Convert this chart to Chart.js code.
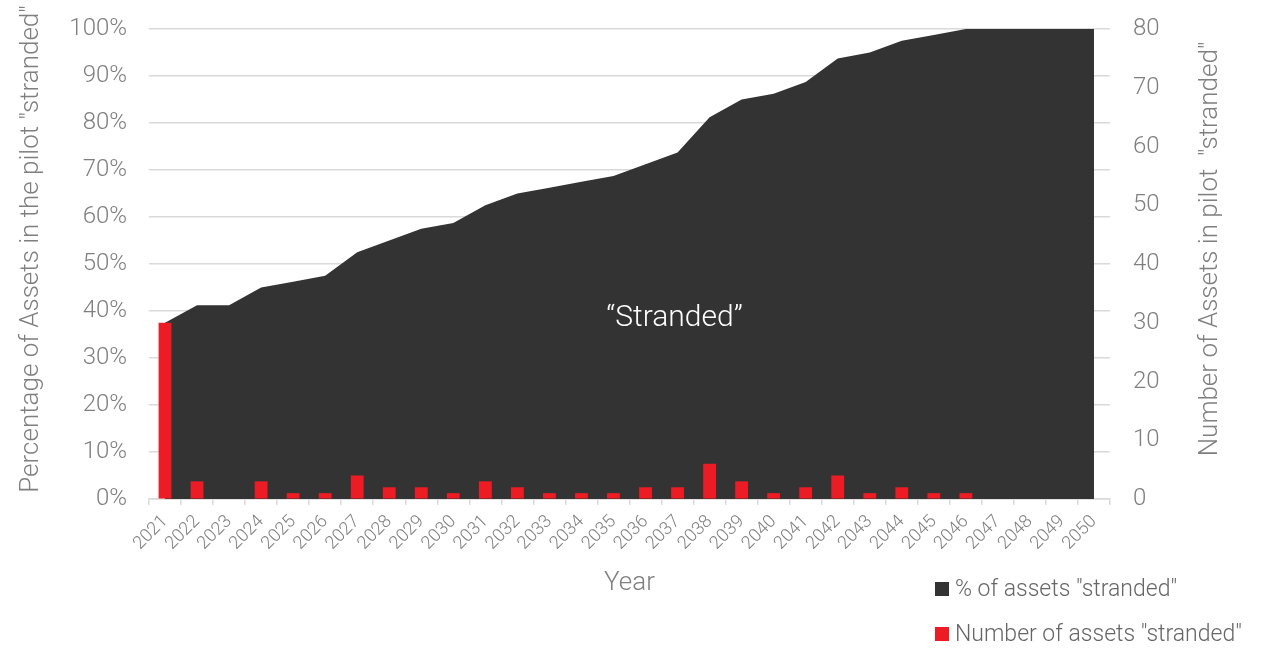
<!DOCTYPE html>
<html>
<head>
<meta charset="utf-8">
<script src="https://cdn.jsdelivr.net/npm/chart.js@4/dist/chart.umd.min.js"></script>
<style>
  body { margin: 0; background: #fff; }
  #wrap { width: 1264px; height: 648px; position: relative; }
</style>
</head>
<body>
<div id="wrap"><canvas id="stranded-chart"></canvas></div>
<script>
// Years along the bottom axis
const YEARS = ["2021", "2022", "2023", "2024", "2025", "2026", "2027", "2028", "2029", "2030",
  "2031", "2032", "2033", "2034", "2035", "2036", "2037", "2038", "2039", "2040",
  "2041", "2042", "2043", "2044", "2045", "2046", "2047", "2048", "2049", "2050"];

// Share of pilot assets "stranded" by each year (%)
let pct_stranded = [37.5, 41.25, 41.25, 45, 46.25, 47.5, 52.5, 55, 57.5, 58.75,
  62.5, 65, 66.25, 67.5, 68.75, 71.25, 73.75, 81.25, 85, 86.25,
  88.75, 93.75, 95, 97.5, 98.75, 100, 100, 100, 100, 100];

// Number of assets newly "stranded" in each year
let num_stranded = [30, 3, 0, 3, 1, 1, 4, 2, 2, 1,
  3, 2, 1, 1, 1, 2, 2, 6, 3, 1,
  2, 4, 1, 2, 1, 1, 0, 0, 0, 0];

// Tick values for both vertical axes
const PCT_TICKS = [0, 10, 20, 30, 40, 50, 60, 70, 80, 90, 100];
const NUM_TICKS = [0, 10, 20, 30, 40, 50, 60, 70, 80];

// Axis titles
const LEFT_TITLE = "Percentage of Assets in the pilot \"stranded\"";
const RIGHT_TITLE = "Number of Assets in pilot  \"stranded\"";

const GREY = "#7f7f7f";
const FONT = "Roboto, 'Liberation Sans', sans-serif";

// Annotation in the middle of the area
const annotationPlugin = {
  id: "stranded-label",
  afterDatasetsDraw(chart) {
    let ctx = chart.ctx;
    let x = chart.scales.x.getPixelForValue(16);
    let y = chart.scales.y.getPixelForValue(38.5);
    ctx.save();
    ctx.fillStyle = "#ffffff";
    ctx.font = "300 30px " + FONT;
    ctx.textAlign = "center";
    ctx.textBaseline = "middle";
    ctx.fillText("\u201CStranded\u201D", x - 3, y);
    ctx.restore();
  }
};

// Both vertical titles read bottom to top, so draw them by hand
const axisTitlePlugin = {
  id: "axis-titles",
  afterDraw(chart) {
    let ctx = chart.ctx;
    let midY = chart.chartArea.top + (chart.chartArea.bottom - chart.chartArea.top) / 2 - 15;
    ctx.save();
    ctx.fillStyle = GREY;
    ctx.font = "300 26px " + FONT;
    ctx.textAlign = "center";
    ctx.textBaseline = "middle";
    [[31, LEFT_TITLE], [chart.width - 54, RIGHT_TITLE]].forEach(([x, txt]) => {
      ctx.save();
      ctx.translate(x, midY);
      ctx.rotate(-Math.PI / 2);
      ctx.fillText(txt, 0, 0);
      ctx.restore();
    });
    ctx.restore();
  }
};

// Legend stacked in the lower right corner
const legendPlugin = {
  id: "stacked-legend",
  afterDraw(chart) {
    let ctx = chart.ctx;
    let left = chart.chartArea.right - 175;
    let top = chart.chartArea.bottom + 90;
    ctx.save();
    ctx.font = "300 23px " + FONT;
    ctx.textBaseline = "middle";
    ctx.textAlign = "left";
    chart.data.datasets.forEach((ds, i) => {
      let cy = top + i * 45;
      ctx.fillStyle = ds.legendColor;
      ctx.fillRect(left, cy - 7, 14, 14);
      ctx.fillStyle = "#666666";
      ctx.fillText(ds.label, left + 20, cy + 1);
    });
    ctx.restore();
  }
};

// Keep the plot box fixed: no extra room for half tick labels
const noLabelPadding = (scale) => { scale.paddingTop = 0; scale.paddingBottom = 0; };

let ctx = document.getElementById("stranded-chart").getContext("2d");
let chart = new Chart(ctx, {
  data: {
    labels: YEARS,
    datasets: [
      {
        type: "line",
        label: "% of assets \"stranded\"",
        data: pct_stranded,
        yAxisID: "y",
        backgroundColor: "#333333",
        borderColor: "#333333",
        borderWidth: 0,
        fill: "origin",
        pointRadius: 0,
        tension: 0,
        order: 2,
        legendColor: "#333333"
      },
      {
        type: "bar",
        label: "Number of assets \"stranded\"",
        data: num_stranded,
        yAxisID: "y1",
        backgroundColor: "#ed1c24",
        barPercentage: 1,
        categoryPercentage: 0.4,
        order: 1,
        legendColor: "#ed1c24"
      }
    ]
  },
  options: {
    responsive: true,
    maintainAspectRatio: false,
    animation: false,
    layout: { padding: { top: 29, left: 0, right: 0, bottom: 0 } },
    plugins: {
      legend: { display: false },
      tooltip: { enabled: false }
    },
    scales: {
      x: {
        offset: true,
        afterFit: (scale) => { scale.height = 149; scale.paddingLeft = 0; scale.paddingRight = 0; },
        grid: {
          offset: true,
          drawOnChartArea: false,
          drawTicks: true,
          tickLength: 6,
          color: "#d9d9d9",
          lineWidth: 1.5
        },
        border: { display: true, color: "#d9d9d9", width: 1.5 },
        ticks: {
          color: GREY,
          font: { family: FONT, size: 18, weight: "300" },
          maxRotation: 45,
          minRotation: 45,
          autoSkip: false,
          padding: 6
        },
        title: {
          display: true,
          text: "Year",
          color: GREY,
          font: { family: FONT, size: 26, weight: "300" },
          padding: { top: 0, bottom: 49 }
        }
      },
      y: {
        position: "left",
        min: 0,
        max: 100,
        afterFit: (scale) => { scale.width = 149; noLabelPadding(scale); },
        afterBuildTicks: (scale) => { scale.ticks = PCT_TICKS.map(v => ({ value: v })); },
        grid: { color: "#d9d9d9", lineWidth: 1.5, drawTicks: false },
        border: { display: false },
        ticks: {
          color: GREY,
          font: { family: FONT, size: 24, weight: "300" },
          padding: 22,
          callback: (v) => v + "%"
        }
      },
      y1: {
        position: "right",
        min: 0,
        max: 80,
        afterFit: (scale) => { scale.width = 154; noLabelPadding(scale); },
        afterBuildTicks: (scale) => { scale.ticks = NUM_TICKS.map(v => ({ value: v })); },
        grid: { drawOnChartArea: false, drawTicks: false },
        border: { display: false },
        ticks: {
          color: GREY,
          font: { family: FONT, size: 24, weight: "300" },
          padding: 23
        }
      }
    }
  },
  plugins: [annotationPlugin, axisTitlePlugin, legendPlugin]
});
</script>
</body>
</html>
